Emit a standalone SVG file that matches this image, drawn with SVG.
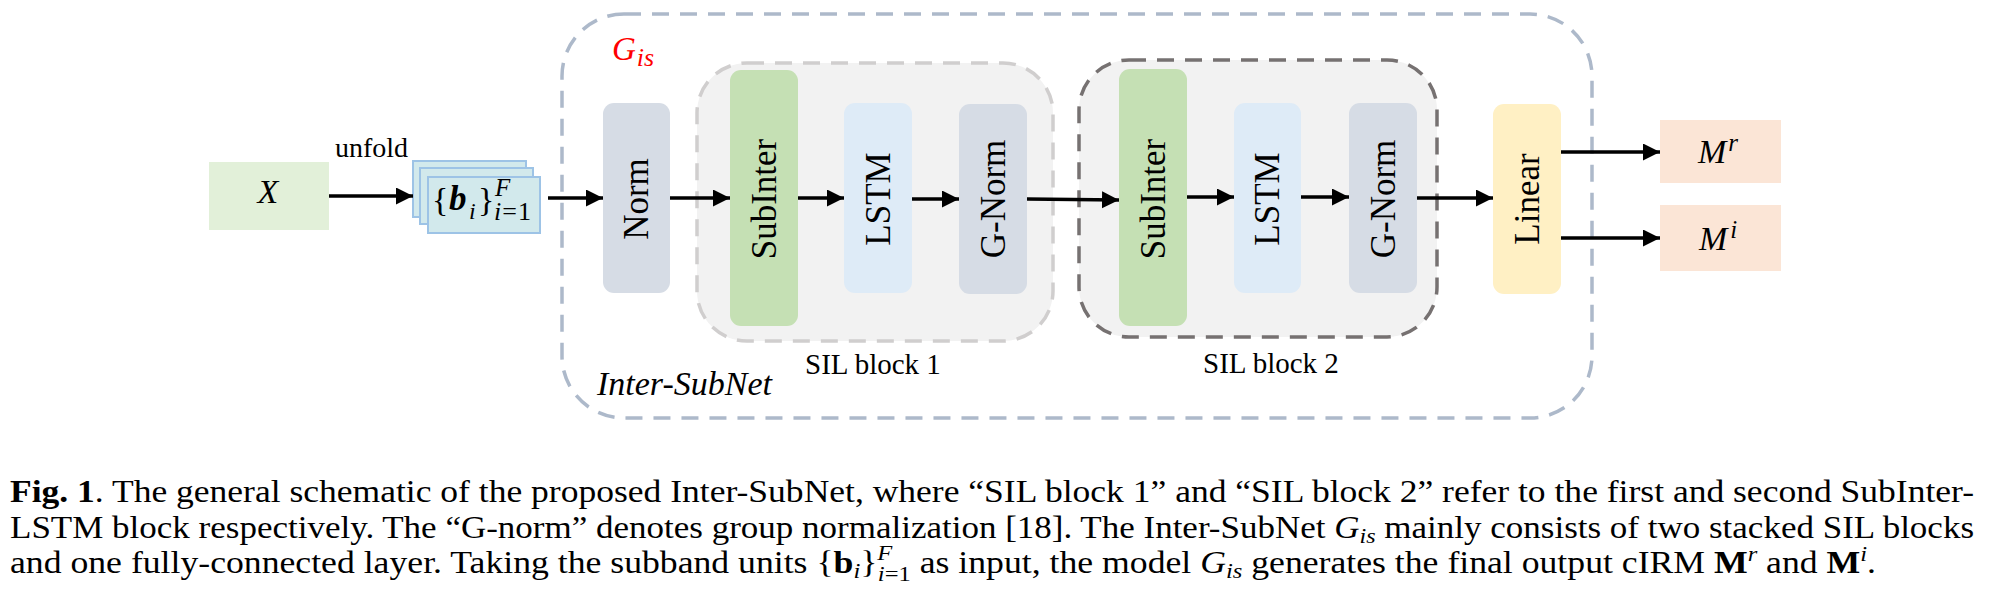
<svg xmlns="http://www.w3.org/2000/svg" width="1989" height="602" viewBox="0 0 1989 602">
<style>
.t{font-family:"Liberation Serif","Times New Roman",serif;fill:#000}
.node{font-family:"Liberation Serif","Times New Roman",serif;font-size:35px;fill:#000;text-anchor:middle}
.it{font-style:italic}
.bd{font-weight:bold}
.conn{stroke:#000;stroke-width:3.3;fill:none;marker-end:url(#ah)}
.norm{fill:#D6DCE5}
.sub{fill:#C5E0B4}
.lstm{fill:#DEEBF7}
.lin{fill:#FFF0C4}
.out{fill:#FBE5D6}
.stack{fill:#D2E9EC;stroke:#9DC3E6;stroke-width:2}
</style>
<defs>
<marker id="ah" markerUnits="userSpaceOnUse" markerWidth="18" markerHeight="18" refX="17" refY="8.5" orient="auto">
<path d="M0,0 L17,8.5 L0,17 z" fill="#000"/>
</marker>
</defs>
<rect width="1989" height="602" fill="#fff"/>

<g id="inter-subnet">
<rect x="562" y="14" width="1030" height="404" rx="62" fill="none" stroke="#ADB9CA" stroke-width="3.5" stroke-dasharray="17 11"/>
<text class="t it" x="612" y="60" font-size="33" style="fill:#FF0000">G<tspan font-size="26" dx="1" dy="6">is</tspan></text>
<text class="t it" x="597" y="395" font-size="34">Inter-SubNet</text>
</g>

<g id="sil-block-1">
<rect x="697" y="63" width="356" height="278" rx="50" fill="#F2F2F2" stroke="#D0CECE" stroke-width="3.5" stroke-dasharray="17 11"/>
<text class="t" x="805" y="374" font-size="29">SIL block 1</text>
</g>

<g id="sil-block-2">
<rect x="1079" y="60" width="358" height="277" rx="50" fill="#F2F2F2" stroke="#767171" stroke-width="3.5" stroke-dasharray="17 11"/>
<text class="t" x="1203" y="373" font-size="29">SIL block 2</text>
</g>

<g id="x">
<rect x="209" y="162" width="120" height="68" fill="#E2F0D9"/>
<text class="t it" x="268" y="203" font-size="34" text-anchor="middle">X</text>
</g>

<g id="subbands">
<rect class="stack" x="413" y="161" width="113" height="56"/>
<rect class="stack" x="420" y="168" width="113" height="56"/>
<rect class="stack" x="428" y="177" width="112" height="56"/>
<text class="t" x="432" y="211" font-size="34">{</text>
<text class="t it bd" x="449" y="210" font-size="35">b</text>
<text class="t it" x="469" y="219" font-size="24">i</text>
<text class="t" x="478" y="211" font-size="34">}</text>
<text class="t it" x="495" y="196" font-size="25">F</text>
<text class="t" x="494" y="220" font-size="26" letter-spacing="1"><tspan class="it">i</tspan>=1</text>
</g>

<g id="unfold-label">
<text class="t" x="335" y="157" font-size="28">unfold</text>
</g>

<g id="norm">
<rect class="norm" x="603" y="103" width="67" height="190" rx="11"/>
<text class="node" transform="translate(648,199) rotate(-90)">Norm</text>
</g>
<g id="subinter-1">
<rect class="sub" x="730" y="70" width="68" height="256" rx="11"/>
<text class="node" transform="translate(776,199) rotate(-90)">SubInter</text>
</g>
<g id="lstm-1">
<rect class="lstm" x="844" y="103" width="68" height="190" rx="11"/>
<text class="node" transform="translate(890,199) rotate(-90)">LSTM</text>
</g>
<g id="gnorm-1">
<rect class="norm" x="959" y="104" width="68" height="190" rx="11"/>
<text class="node" transform="translate(1005,199) rotate(-90)">G-Norm</text>
</g>
<g id="subinter-2">
<rect class="sub" x="1119" y="69" width="68" height="257" rx="11"/>
<text class="node" transform="translate(1165,199) rotate(-90)">SubInter</text>
</g>
<g id="lstm-2">
<rect class="lstm" x="1234" y="103" width="67" height="190" rx="11"/>
<text class="node" transform="translate(1279,199) rotate(-90)">LSTM</text>
</g>
<g id="gnorm-2">
<rect class="norm" x="1349" y="103" width="68" height="190" rx="11"/>
<text class="node" transform="translate(1395,199) rotate(-90)">G-Norm</text>
</g>
<g id="linear">
<rect class="lin" x="1493" y="104" width="68" height="190" rx="11"/>
<text class="node" transform="translate(1539,199) rotate(-90)">Linear</text>
</g>
<g id="m-r">
<rect class="out" x="1660" y="120" width="121" height="63"/>
<text class="t it" x="1698" y="163" font-size="34">M<tspan font-size="25" dx="2" dy="-12">r</tspan></text>
</g>
<g id="m-i">
<rect class="out" x="1660" y="205" width="121" height="66"/>
<text class="t it" x="1699" y="250" font-size="34">M<tspan font-size="25" dx="3" dy="-12">i</tspan></text>
</g>

<g id="connectors">
<line class="conn" x1="329" y1="196" x2="413" y2="196"/>
<line class="conn" x1="548" y1="198" x2="603" y2="198"/>
<line class="conn" x1="670" y1="198" x2="730" y2="198"/>
<line class="conn" x1="798" y1="198" x2="844" y2="198"/>
<line class="conn" x1="912" y1="199" x2="959" y2="199"/>
<line class="conn" x1="1027" y1="199" x2="1119" y2="200"/>
<line class="conn" x1="1187" y1="197" x2="1234" y2="197"/>
<line class="conn" x1="1301" y1="197" x2="1349" y2="197"/>
<line class="conn" x1="1417" y1="198" x2="1493" y2="198"/>
<line class="conn" x1="1561" y1="152" x2="1660" y2="152"/>
<line class="conn" x1="1561" y1="238" x2="1660" y2="238"/>
</g>

<g id="caption">
<text class="t" x="10" y="502" font-size="32" textLength="1964" lengthAdjust="spacingAndGlyphs"><tspan class="bd">Fig. 1</tspan>. The general schematic of the proposed Inter-SubNet, where “SIL block 1” and “SIL block 2” refer to the first and second SubInter-</text>
<text class="t" x="10" y="538" font-size="32" textLength="1964" lengthAdjust="spacingAndGlyphs">LSTM block respectively. The “G-norm” denotes group normalization [18]. The Inter-SubNet <tspan class="it">G</tspan><tspan class="it" font-size="22" dy="5">is</tspan><tspan dy="-5"> mainly consists of two stacked SIL blocks</tspan></text>
<text class="t" x="10" y="573" font-size="32" textLength="1866" lengthAdjust="spacingAndGlyphs">and one fully-connected layer. Taking the subband units {<tspan class="bd">b</tspan><tspan class="it" font-size="22" dy="5">i</tspan><tspan dy="-5">}</tspan><tspan class="it" font-size="22" dy="-13">F</tspan><tspan font-size="22" dx="-13" dy="21"><tspan class="it">i</tspan>=1</tspan><tspan dy="-8"> as input, the model </tspan><tspan class="it">G</tspan><tspan class="it" font-size="22" dy="5">is</tspan><tspan dy="-5"> generates the final output cIRM </tspan><tspan class="bd">M</tspan><tspan class="it" font-size="22" dy="-12">r</tspan><tspan dy="12"> and </tspan><tspan class="bd">M</tspan><tspan class="it" font-size="22" dy="-12">i</tspan><tspan dy="12">.</tspan></text>
</g>
</svg>
